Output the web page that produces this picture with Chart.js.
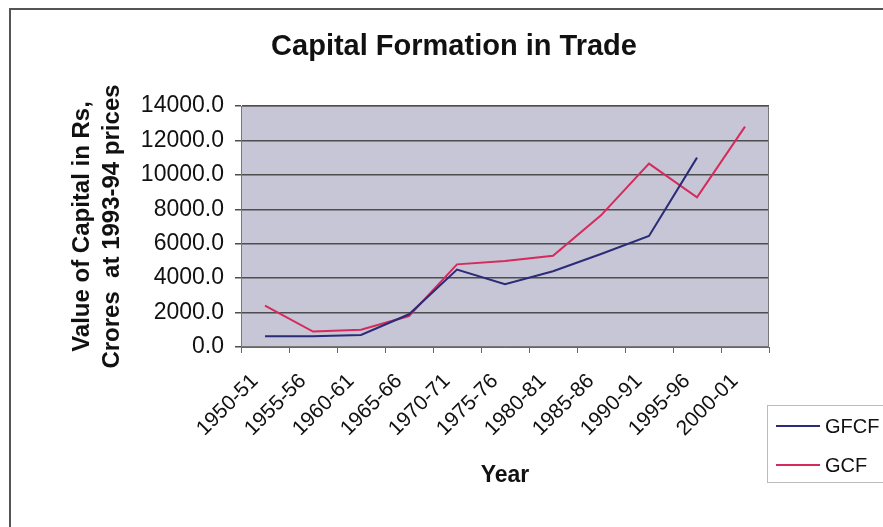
<!DOCTYPE html>
<html>
<head>
<meta charset="utf-8">
<script src="https://cdn.jsdelivr.net/npm/chart.js@4"></script>
<style>
  html, body { margin: 0; padding: 0; background: #fff; overflow: hidden; }
  #wrap { position: relative; width: 883px; height: 527px; }
  #frame {
    position: absolute; left: 9px; top: 8px; width: 900px; height: 540px;
    border: 2px solid #555; box-sizing: border-box; pointer-events: none;
  }
  canvas { position: absolute; left: 0; top: 0; }
</style>
</head>
<body>
<div id="wrap">
  <canvas id="chart" width="883" height="527"></canvas>
  <div id="frame"></div>
</div>
<script>
/*********************************************************
 * DATA
 *********************************************************/
const years = ["1950-51", "1955-56", "1960-61", "1965-66", "1970-71", "1975-76",
               "1980-81", "1985-86", "1990-91", "1995-96", "2000-01"];

// Rs crores, 1993-94 prices
const gfcf = [620, 620, 700, 1900, 4500, 3650, 4400, 5400, 6450, 11000];
const gcf  = [2400, 900, 1000, 1800, 4800, 5000, 5300, 7650, 10650, 8700, 12800];

const seriesNames = ["GFCF", "GCF"];
const yTicks = [0, 2000, 4000, 6000, 8000, 10000, 12000, 14000];

const chartTitle = "Capital Formation in Trade";
const yTitle = ["Value of Capital in Rs,", "Crores  at 1993-94 prices"];
const xTitle = "Year";

const FONT = "'Liberation Sans', Arial, sans-serif";

/*********************************************************
 * PLUGINS
 *********************************************************/
// grey plot area + frame
const plotBackground = {
  id: "plotBackground",
  beforeDraw(chart) {
    const { ctx, chartArea: a } = chart;
    ctx.save();
    ctx.fillStyle = "#c6c6d6";
    ctx.fillRect(a.left, a.top, a.right - a.left, a.bottom - a.top);
    ctx.restore();
  },
  afterDatasetsDraw(chart) {
    const { ctx, chartArea: a } = chart;
    ctx.save();
    ctx.strokeStyle = "#777";
    ctx.lineWidth = 1;
    ctx.strokeRect(a.left + 0.5, a.top + 0.5, a.right - a.left - 1, a.bottom - a.top - 1);
    ctx.restore();
  }
};

// title centred over the whole sheet
const sheetTitle = {
  id: "sheetTitle",
  afterDraw(chart) {
    const ctx = chart.ctx;
    ctx.save();
    ctx.font = "bold 29px " + FONT;
    ctx.fillStyle = "#111";
    ctx.textAlign = "center";
    ctx.textBaseline = "middle";
    ctx.fillText(chartTitle, 454, 47);
    ctx.restore();
  }
};

// boxed legend at the lower right
const boxLegend = {
  id: "boxLegend",
  afterDraw(chart) {
    const ctx = chart.ctx;
    const x = 767, y = 405, w = 130, h = 77;
    ctx.save();
    ctx.fillStyle = "#fff";
    ctx.fillRect(x, y, w, h);
    ctx.strokeStyle = "#bbb";
    ctx.lineWidth = 1;
    ctx.strokeRect(x + 0.5, y + 0.5, w, h);
    ctx.font = "20px " + FONT;
    ctx.textBaseline = "middle";
    chart.data.datasets.forEach((ds, i) => {
      const ly = 426 + i * 39;
      ctx.strokeStyle = ds.borderColor;
      ctx.lineWidth = 2;
      ctx.beginPath();
      ctx.moveTo(776, ly);
      ctx.lineTo(820, ly);
      ctx.stroke();
      ctx.fillStyle = "#111";
      ctx.fillText(ds.label, 825, ly + 1);
    });
    ctx.restore();
  }
};

/*********************************************************
 * CHART
 *********************************************************/
const ctx = document.getElementById("chart").getContext("2d");

new Chart(ctx, {
  type: "line",
  data: {
    labels: years,
    datasets: [
      {
        label: seriesNames[0],
        data: gfcf,
        borderColor: "#2b2b78",
        borderWidth: 2,
        pointRadius: 0,
        tension: 0
      },
      {
        label: seriesNames[1],
        data: gcf,
        borderColor: "#d62a5c",
        borderWidth: 2,
        pointRadius: 0,
        tension: 0
      }
    ]
  },
  options: {
    responsive: false,
    animation: false,
    events: [],
    layout: { padding: { left: 60, right: 114, top: 106, bottom: 30 } },
    plugins: {
      legend: { display: false },
      title: { display: false },
      tooltip: { enabled: false }
    },
    scales: {
      x: {
        offset: true,
        grid: {
          offset: true,
          drawOnChartArea: false,
          drawTicks: true,
          tickLength: 6,
          color: "#666"
        },
        border: { color: "#666", width: 1 },
        ticks: {
          color: "#111",
          font: { family: FONT, size: 21 },
          minRotation: 45,
          maxRotation: 45,
          autoSkip: false,
          padding: 16,
          labelOffset: -10
        },
        title: {
          display: true,
          text: xTitle,
          color: "#111",
          font: { family: FONT, size: 23, weight: "bold" },
          padding: { top: 0, bottom: 8 }
        },
        afterFit(scale) { scale.height = 150; }
      },
      y: {
        min: 0,
        max: 14000,
        afterBuildTicks(scale) { scale.ticks = yTicks.map(v => ({ value: v })); },
        grid: {
          color: "#4d4d4d",
          lineWidth: 1.5,
          drawTicks: true,
          tickLength: 6
        },
        border: { color: "#666", width: 1 },
        ticks: {
          color: "#111",
          font: { family: FONT, size: 23 },
          padding: 11,
          callback: v => Number(v).toFixed(1)
        },
        title: {
          display: true,
          text: yTitle,
          color: "#111",
          font: { family: FONT, size: 24, weight: "bold", lineHeight: 1.25 },
          padding: { top: 7, bottom: 0 }
        },
        afterFit(scale) { scale.width = 181; }
      }
    }
  },
  plugins: [plotBackground, sheetTitle, boxLegend]
});
</script>
</body>
</html>
